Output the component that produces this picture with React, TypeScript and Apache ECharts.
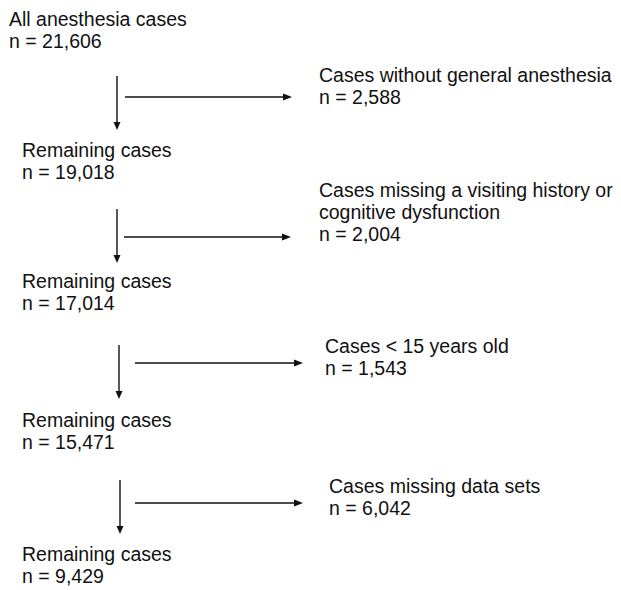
import React, { useEffect, useRef } from "react";
import * as echarts from "echarts";

// ---- Data ----
const mainLabels = [
  "All anesthesia cases",
  "Remaining cases",
  "Remaining cases",
  "Remaining cases",
  "Remaining cases",
];
const mainCounts = [21606, 19018, 17014, 15471, 9429];

const exclusionLabels = [
  ["Cases without general anesthesia"],
  ["Cases missing a visiting history or", "cognitive dysfunction"],
  ["Cases < 15 years old"],
  ["Cases missing data sets"],
];
const exclusionCounts = [2588, 2004, 1543, 6042];

// ---- Layout (positions only) ----
const mainX = [9, 22, 22, 22, 22];
const mainBaseline = [26, 157, 288, 427, 561];
const exclX = [319, 319, 325, 329];
const exclBaseline = [82, 197, 353, 493];
const vArrowX = [117, 117, 119, 120];
const vArrowY = [
  [76, 130],
  [209, 263],
  [345, 399],
  [480, 534],
];
const hArrowY = [97, 237, 363, 503];
const hArrowX = [
  [125, 292],
  [124, 291],
  [135, 303],
  [135, 303],
];

const FONT = "'Liberation Sans', Arial, Helvetica, sans-serif";
const FS = 19.5;
const LH = 22;
const COLOR = "#111";
const BASE_OFF = 6.8;

const fmt = (n: number) => "n = " + n.toLocaleString("en-US");

function textEl(x: number, baseline: number, s: string) {
  return {
    type: "text",
    x,
    y: baseline - BASE_OFF,
    style: {
      text: s,
      fontSize: FS,
      fontFamily: FONT,
      fill: COLOR,
      align: "left",
      verticalAlign: "middle",
    },
  };
}

function vArrow(x: number, y1: number, y2: number) {
  const head = 8;
  return [
    {
      type: "line",
      shape: { x1: x, y1, x2: x, y2: y2 - head + 1 },
      style: { stroke: COLOR, lineWidth: 1.4 },
    },
    {
      type: "polygon",
      shape: {
        points: [
          [x - 3.5, y2 - head],
          [x + 3.5, y2 - head],
          [x, y2],
        ],
      },
      style: { fill: COLOR },
    },
  ];
}

function hArrow(y: number, x1: number, x2: number) {
  const head = 9;
  return [
    {
      type: "line",
      shape: { x1, y1: y, x2: x2 - head + 1, y2: y },
      style: { stroke: COLOR, lineWidth: 1.4 },
    },
    {
      type: "polygon",
      shape: {
        points: [
          [x2 - head, y - 3.5],
          [x2 - head, y + 3.5],
          [x2, y],
        ],
      },
      style: { fill: COLOR },
    },
  ];
}

export default function App() {
  const ref = useRef<HTMLDivElement>(null);
  useEffect(() => {
    if (!ref.current) return;
    const chart = echarts.init(ref.current, undefined, { renderer: "svg" });
    const elements: any[] = [];
    mainLabels.forEach((label, i) => {
      elements.push(textEl(mainX[i], mainBaseline[i], label));
      elements.push(textEl(mainX[i], mainBaseline[i] + LH, fmt(mainCounts[i])));
    });
    exclusionLabels.forEach((lines, i) => {
      lines.forEach((ln, j) => {
        elements.push(textEl(exclX[i], exclBaseline[i] + j * LH, ln));
      });
      elements.push(
        textEl(exclX[i], exclBaseline[i] + lines.length * LH, fmt(exclusionCounts[i]))
      );
    });
    vArrowX.forEach((x, i) => {
      elements.push(...vArrow(x, vArrowY[i][0], vArrowY[i][1]));
    });
    hArrowY.forEach((y, i) => {
      elements.push(...hArrow(y, hArrowX[i][0], hArrowX[i][1]));
    });
    chart.setOption({
      animation: false,
      backgroundColor: "#fff",
      graphic: { elements },
    });
    return () => chart.dispose();
  }, []);
  return (
    <div
      ref={ref}
      style={{ position: "fixed", left: 0, top: 0, width: 621, height: 590, background: "#fff" }}
    />
  );
}
